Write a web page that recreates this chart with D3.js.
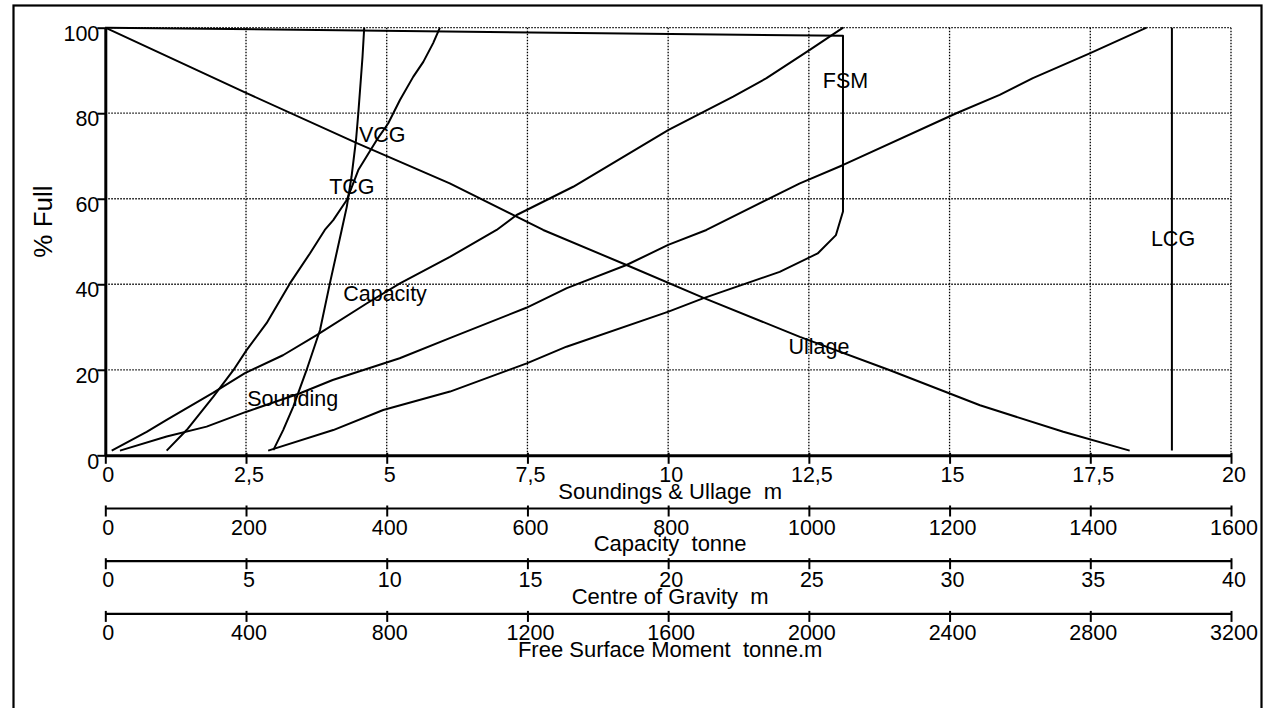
<!DOCTYPE html>
<html>
<head>
<meta charset="utf-8">
<script src="https://cdn.jsdelivr.net/npm/d3@7"></script>
<style>
  body { margin: 0; background: #fff; }
  svg text { font-family: "Liberation Sans", Arial, sans-serif; fill: #000; white-space: pre; }
</style>
</head>
<body>
<svg id="chart" width="1272" height="708"></svg>
<script>
// ---- Axis ticks -------------------------------------------------------
const pctTicks = [0, 20, 40, 60, 80, 100];
const soundTicks = [0, 2.5, 5, 7.5, 10, 12.5, 15, 17.5, 20];
const soundTickLabels = ["0", "2,5", "5", "7,5", "10", "12,5", "15", "17,5", "20"];
const capTicks = [0, 200, 400, 600, 800, 1000, 1200, 1400, 1600];
const cgTicks = [0, 5, 10, 15, 20, 25, 30, 35, 40];
const fsmTicks = [0, 400, 800, 1200, 1600, 2000, 2400, 2800, 3200];

const axisTitles = ["Soundings & Ullage  m", "Capacity  tonne", "Centre of Gravity  m", "Free Surface Moment  tonne.m"];

// ---- Tank curves: [value, % full] ------------------------------------
// Sounding and ullage in metres
const sounding = [[0.26,1.1],[1.09,4.4],[1.80,6.7],[2.51,10.2],[3.46,14.5],[4.04,17.6],[5.23,22.7],[6.12,27.4],[7.48,34.5],[8.20,39.1],[9.26,44.5],[10.0,49.2],[10.68,52.7],[12.34,63.6],[13.11,67.9],[15.12,80.0],[15.89,84.3],[16.48,88.2],[17.49,94.0],[18.50,100]];
const ullage = [[0,100],[2.51,84.7],[4.47,73.0],[6.12,63.6],[7.78,52.7],[9.26,44.5],[10.65,36.7],[12.34,27.7],[13.94,19.9],[15.54,11.7],[17.02,5.5],[18.2,1.1]];
// Capacity in tonnes
const capacity = [[9.1,1.1],[58.8,5.5],[87.2,8.3],[153,14.6],[198.5,19.2],[252.5,23.4],[300.4,28.1],[371.4,35.5],[418.8,40.2],[489.8,46.4],[556.2,52.7],[584.6,56.2],[665,62.8],[800.6,76.1],[892.4,83.9],[939.8,88.2],[1001.3,94.8],[1048.7,100]];
// Centres of gravity in metres
const vcg = [[2.18,1.1],[2.89,5.9],[3.84,13.7],[4.55,19.9],[5.02,24.6],[5.73,30.9],[6.56,40.2],[7.27,47.2],[7.80,52.7],[8.10,55.0],[8.58,59.7],[8.99,66.7],[9.64,73.7],[10.05,77.6],[10.47,83.1],[10.94,88.5],[11.30,92.0],[11.65,96.4],[11.89,100]];
const tcg = [[5.97,1.2],[6.32,5.9],[6.68,11.4],[7.15,19.9],[7.63,29.3],[7.98,40.2],[8.40,52.7],[8.58,58.1],[8.75,65.2],[8.91,73.8],[8.99,80.0],[9.07,87.0],[9.14,93.2],[9.20,100]];
const lcg = [[37.9,1.1],[37.9,100]];
// Free surface moment in tonne.m
const fsm = [[463,1.1],[648,5.9],[790,10.6],[980,14.9],[1198,21.5],[1311,25.4],[1601,33.6],[1699,36.7],[1917,42.9],[2025,47.2],[2077,51.5],[2097,57.0],[2097,98.1],[0,100]];

// Curve names, placed on the main (metre) scale
const curveLabels = [
  { text: "VCG", m: 4.92, pct: 75.1 },
  { text: "TCG", m: 4.38, pct: 63.0 },
  { text: "Capacity", m: 4.97, pct: 37.9 },
  { text: "Sounding", m: 3.33, pct: 13.3 },
  { text: "Ullage", m: 12.68, pct: 25.4 },
  { text: "FSM", m: 13.15, pct: 87.6 },
  { text: "LCG", m: 18.97, pct: 50.7 }
];

// ---- Layout ------------------------------------------------------------
const svg = d3.select("#chart");
const plotLeft = 105.3, plotRight = 1231, plotTop = 27.7, plotBottom = 455.3;
const axisGap = 52.7;
const tickFont = 21.5, titleFont = 22;

svg.append("rect").attr("width", 1272).attr("height", 708).attr("fill", "#fff");
svg.append("rect")
  .attr("x", 13.5).attr("y", 5.5).attr("width", 1248).attr("height", 740)
  .attr("fill", "none").attr("stroke", "#000").attr("stroke-width", 2.2);

const x = d3.scaleLinear().domain([0, 20]).range([plotLeft, plotRight]);
const xCap = d3.scaleLinear().domain([0, 1600]).range([plotLeft, plotRight]);
const xCg = d3.scaleLinear().domain([0, 40]).range([plotLeft, plotRight]);
const xFsm = d3.scaleLinear().domain([0, 3200]).range([plotLeft, plotRight]);
const y = d3.scaleLinear().domain([0, 100]).range([plotBottom, plotTop]);

// ---- Dotted grid -----------------------------------------------------------
const grid = svg.append("g").attr("stroke", "#000").attr("stroke-width", 1.3)
  .attr("stroke-dasharray", "1.5 1.5");
grid.selectAll("line.v").data(soundTicks.filter(d => d > 0)).join("line")
  .attr("class", "v")
  .attr("x1", d => x(d)).attr("x2", d => x(d)).attr("y1", plotTop).attr("y2", plotBottom);
grid.selectAll("line.h").data(pctTicks.filter(d => d > 0)).join("line")
  .attr("class", "h")
  .attr("y1", d => y(d)).attr("y2", d => y(d)).attr("x1", plotLeft).attr("x2", plotRight);

// ---- Curves -------------------------------------------------------------
function drawCurve(data, sx) {
  const line = d3.line().x(d => sx(d[0])).y(d => y(d[1]));
  svg.append("path").attr("d", line(data)).attr("fill", "none")
    .attr("stroke", "#000").attr("stroke-width", 2).attr("stroke-linejoin", "round");
}
drawCurve(sounding, x);
drawCurve(ullage, x);
drawCurve(capacity, xCap);
drawCurve(vcg, xCg);
drawCurve(tcg, xCg);
drawCurve(lcg, xCg);
drawCurve(fsm, xFsm);

// ---- Horizontal axes ---------------------------------------------------------
function bottomAxis(scale, ticks, labels, yPos, lineWidth, title) {
  const ax = d3.axisBottom(scale).tickValues(ticks)
    .tickFormat((d, i) => labels[i]).tickSize(9).tickSizeOuter(0);
  const g = svg.append("g").attr("transform", `translate(0,${yPos})`).call(ax);
  g.select(".domain").attr("stroke", "#000").attr("stroke-width", lineWidth);
  g.selectAll(".tick line").attr("y1", -2.5).attr("y2", 8.5)
    .attr("stroke", "#000").attr("stroke-width", 2);
  g.selectAll(".tick text").attr("y", 26.7).attr("dy", null).attr("x", 2.5)
    .attr("font-size", tickFont).attr("font-family", null).attr("fill", "#000");
  svg.append("text").attr("x", (plotLeft + plotRight) / 2 + 2).attr("y", yPos + 43.2)
    .attr("text-anchor", "middle").attr("font-size", titleFont)
    .attr("xml:space", "preserve").text(title);
}
bottomAxis(x, soundTicks, soundTickLabels, plotBottom, 3, axisTitles[0]);
bottomAxis(xCap, capTicks, capTicks.map(String), plotBottom + axisGap, 2.2, axisTitles[1]);
bottomAxis(xCg, cgTicks, cgTicks.map(String), plotBottom + axisGap * 2, 2.2, axisTitles[2]);
bottomAxis(xFsm, fsmTicks, fsmTicks.map(String), plotBottom + axisGap * 3, 2.2, axisTitles[3]);

// ---- Vertical axis ---------------------------------------------------------
const yAx = d3.axisLeft(y).tickValues(pctTicks).tickSize(8).tickSizeOuter(0);
const gy = svg.append("g").attr("transform", `translate(${plotLeft},0)`).call(yAx);
gy.select(".domain").attr("stroke", "#000").attr("stroke-width", 3);
gy.selectAll(".tick line").attr("stroke", "#000").attr("stroke-width", 2);
gy.selectAll(".tick text").attr("x", -6).attr("dy", null).attr("y", 12.7)
  .attr("font-size", tickFont).attr("font-family", null).attr("fill", "#000");

svg.append("text")
  .attr("transform", "translate(51.5,221.5) rotate(-90)")
  .attr("text-anchor", "middle").attr("font-size", 26).text("% Full");

// ---- Curve names -------------------------------------------------------------
svg.selectAll("text.curve").data(curveLabels).join("text")
  .attr("class", "curve")
  .attr("x", d => x(d.m)).attr("y", d => y(d.pct) + 0.358 * tickFont)
  .attr("text-anchor", "middle").attr("font-size", tickFont)
  .text(d => d.text);
</script>
</body>
</html>
